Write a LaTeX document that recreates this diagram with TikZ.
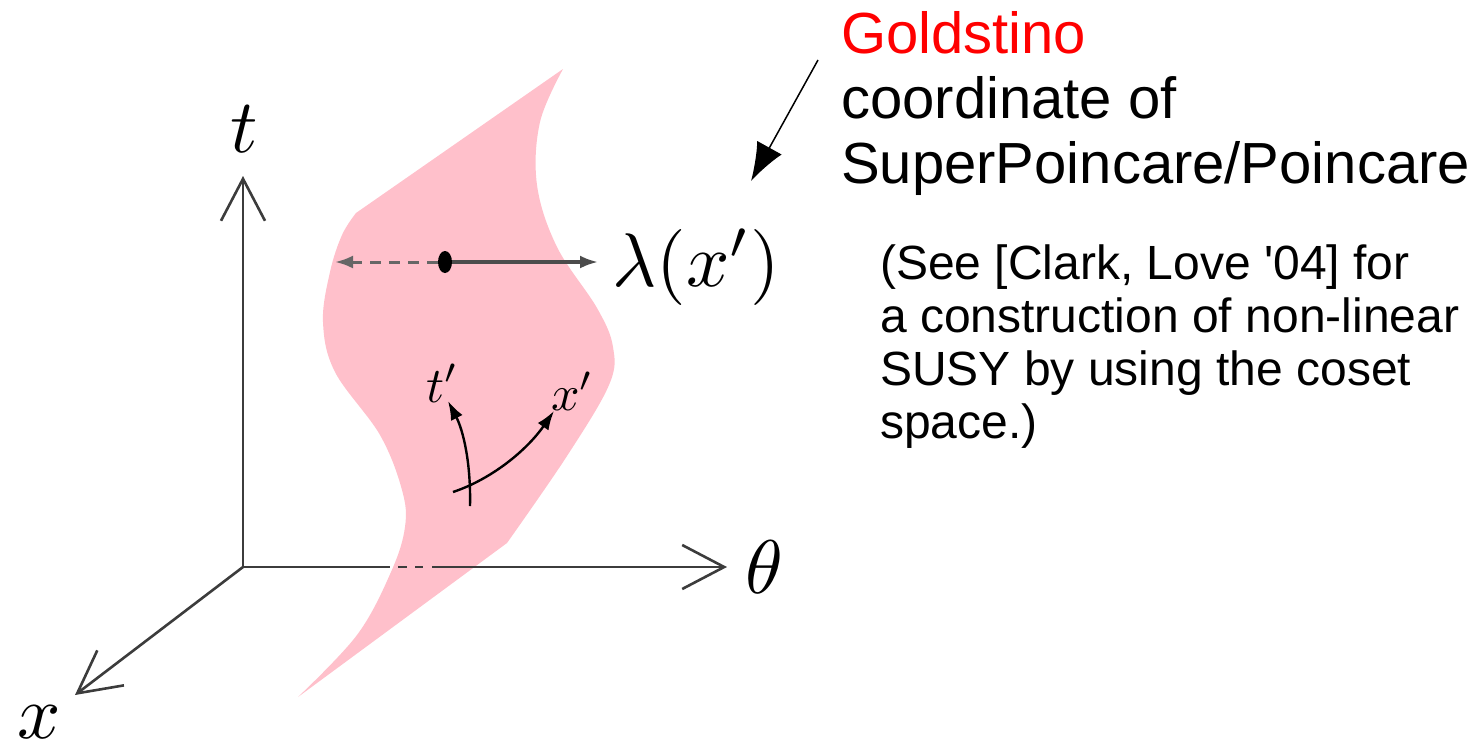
\documentclass[tikz,border=0pt]{standalone}
\usepackage{graphicx}
\usepackage{fontspec}
\setmainfont{Liberation Sans}
\usetikzlibrary{arrows.meta,shapes.geometric}
\definecolor{sheet}{RGB}{255,192,203}
\definecolor{axisgray}{RGB}{60,60,60}
\newcommand{\myBigMath}[1]{\scalebox{7.6}{$#1$}}
\newcommand{\mySmallMath}[1]{\scalebox{5}{$#1$}}
\tikzset{
  axis/.style={draw=axisgray,line width=2.6pt,-{Straight Barb[length=42pt,width=44pt,line width=2.6pt]}},
  bigmath/.style={inner sep=0pt},
  smallmath/.style={inner sep=0pt},
  headtext/.style={inner sep=0pt,anchor=base west,font=\fontsize{58}{65}\selectfont},
  bodytext/.style={inner sep=0pt,anchor=base west,font=\fontsize{48}{53}\selectfont},
  smallarrow/.style={draw=black,line width=2.4pt,-{Latex[length=19pt,width=13pt]}},
  lamsolid/.style={draw=black!70,line width=3.2pt,-{Latex[length=18pt,width=13pt]}},
  lamdashed/.style={draw=black!60,line width=3pt,dash pattern=on 11pt off 8pt,-{Latex[length=18pt,width=13pt]}},
  pointer/.style={draw=black,line width=1.5pt,-{Latex[length=38pt,width=28pt]}}
}
\begin{document}
\begin{tikzpicture}[x=1pt,y=-1pt]
\useasboundingbox (0,0) rectangle (1482,750);
% sheet
\fill[sheet] (563,69) -- (356,213)
  -- plot[smooth,tension=0.6] coordinates {(356,213) (342,235) (330,272) (323,322) (335,372) (380,435) (402,490) (405,527) (391,572) (357,635) (298,697)}
  -- (507,543)
  -- plot[smooth,tension=0.6] coordinates {(507,543) (567,456) (609,385) (613,347) (597,308) (557,247) (537,185) (540,122) (563,69)}
  -- cycle;
% axes
\coordinate (O) at (243,567);
\coordinate (ttip) at (243,176);
\coordinate (thtip) at (727,567);
\coordinate (xtip) at (75,695);
\draw[axis] (O) -- (ttip);
\draw[axis] (O) -- (xtip);
\coordinate (h1) at (390,567);
\coordinate (h2) at (398,567);
\coordinate (h3) at (407,567);
\coordinate (h4) at (415,567);
\coordinate (h5) at (423,567);
\coordinate (h6) at (432,567);
\draw[draw=axisgray,line width=2.6pt] (O) -- (h1);
\draw[draw=axisgray,line width=2.6pt] (h2) -- (h3);
\draw[draw=axisgray,line width=2.6pt] (h4) -- (h5);
\draw[axis] (h6) -- (thtip);
\node[bigmath,anchor=base] (tlab) at (244,152) {\myBigMath{t}};
\node[bigmath,anchor=base west] (thlab) at (745,593) {\myBigMath{\theta}};
\node[bigmath,anchor=base] (xlab) at (39,738) {\myBigMath{x}};
% lambda arrows
\node[ellipse,fill=black,inner sep=0pt,minimum width=14pt,minimum height=22pt] (dot) at (445,262) {};
\coordinate (lleft) at (335,262);
\coordinate (lright) at (598,262);
\draw[lamdashed] (dot.west) -- (lleft);
\draw[lamsolid] (dot.east) -- (lright);
\node[bigmath,anchor=base west] (lam) at (612,286) {\myBigMath{\lambda(x')}};
% local frame
\coordinate (tb) at (470,506);
\coordinate (xb) at (453,492);
\node[smallmath,anchor=base west] (tp) at (426,402) {\mySmallMath{t'}};
\node[smallmath,anchor=base west] (xp) at (551,410) {\mySmallMath{x'}};
\coordinate (tpt) at (448,401);
\coordinate (xpt) at (554,411);
\draw[smallarrow] (tb) .. controls (471,462) and (463,430) .. (tpt);
\draw[smallarrow] (xb) .. controls (492,479) and (527,450) .. (xpt);
% text
\node[headtext,text=red] (gold) at (841,53) {Goldstino};
\node[headtext] (coord) at (841,118) {coordinate of};
\node[headtext] (super) at (841,183) {SuperPoincare/Poincare};
\coordinate (pstart) at (818,60);
\coordinate (pend) at (751,181);
\draw[pointer] (pstart) -- (pend);
\node[bodytext] (b1) at (880,279) {(See [Clark, Love \textquotesingle 04] for};
\node[bodytext] (b2) at (880,332) {a construction of non-linear};
\node[bodytext] (b3) at (880,385) {SUSY by using the coset};
\node[bodytext] (b4) at (880,438) {space.)};
\end{tikzpicture}
\end{document}
